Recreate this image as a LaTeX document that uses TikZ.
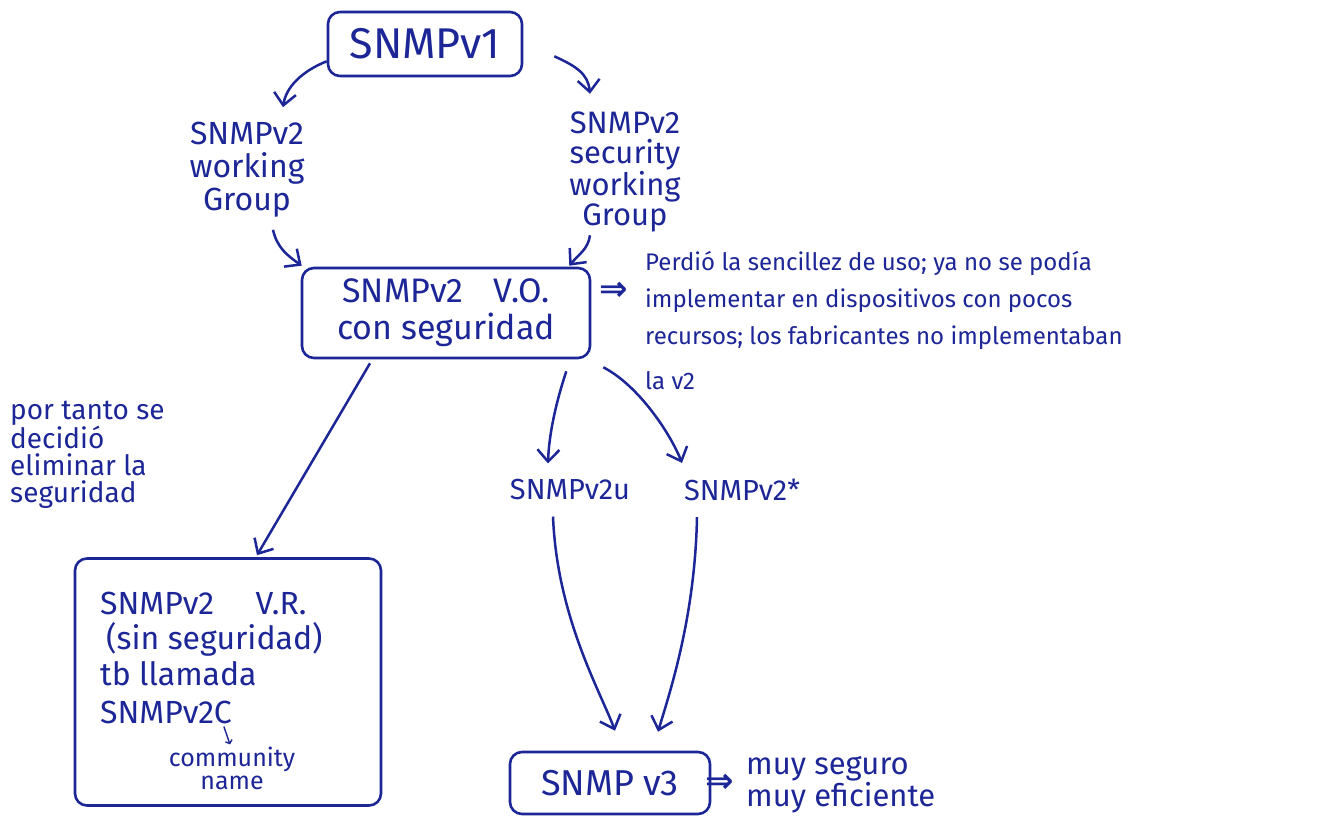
\documentclass[tikz,border=0pt]{standalone}
\usepackage{fontspec}
\setmainfont{Fira Sans}
\newfontfamily\symfont{DejaVu Sans}
\usetikzlibrary{arrows.meta}
\definecolor{ink}{RGB}{28,38,150}
\begin{document}
\begin{tikzpicture}[x=1pt,y=-1pt,
  box/.style={draw=ink, line width=2.6pt, rounded corners=12pt, inner sep=0pt, text=ink, align=center},
  lbl/.style={text=ink, inner sep=0pt},
  arr/.style={draw=ink, line width=2.5pt, -{Straight Barb[length=12pt,width=22pt,line width=2.5pt]}},
  small/.style={draw=ink, line width=1.4pt, -{Straight Barb[length=3pt,width=7pt,line width=1.4pt]}},
  impl/.style={text=ink, inner sep=0pt, font=\symfont\bfseries\fontsize{34}{34}\selectfont},
]
\useasboundingbox[fill=white] (0,0) rectangle (1339,816);

% nodes
\node[box, minimum width=194pt, minimum height=64pt, font=\fontsize{43}{44}\selectfont] (v1) at (425,44) {SNMPv1};
\node[lbl, align=center, font=\fontsize{32}{33}\selectfont] (wg) at (247,170) {SNMPv2\\working\\Group};
\node[lbl, align=center, font=\fontsize{31}{30}\selectfont] (swg) at (625,172) {SNMPv2\\security\\working\\Group};
\node[box, minimum width=288pt, minimum height=90pt, font=\fontsize{34}{37}\selectfont] (vo) at (446,313) {SNMPv2\hspace{0.9em}V.O.\\con seguridad};
\node[impl] (imp1) at (614,291) {⇒};
\node[lbl, align=left, anchor=north west, font=\fontsize{24}{37}\selectfont] (note) at (645,251)
  {Perdió la sencillez de uso; ya no se podía\\implementar en dispositivos con pocos\\recursos; los fabricantes no implementaban\\[8pt]la v2};
\node[lbl, align=left, anchor=north west, font=\fontsize{28}{27}\selectfont] (elim) at (10,401)
  {por tanto se\\decidió\\eliminar la\\seguridad};
\node[box, minimum width=306pt, minimum height=247pt] (vr) at (228,682) {};
\node[lbl, anchor=west, font=\fontsize{32}{32}\selectfont] (vr1) at (100,603) {SNMPv2\hspace{1.3em}V.R.};
\node[lbl, anchor=west, font=\fontsize{32}{32}\selectfont] (vr2) at (106,639) {(sin seguridad)};
\node[lbl, anchor=west, font=\fontsize{32}{32}\selectfont] (vr3) at (100,674) {tb llamada};
\node[lbl, anchor=west, font=\fontsize{32}{32}\selectfont] (vr4) at (100,712) {SNMPv2C};
\node[lbl, align=center, font=\fontsize{25}{23}\selectfont] (cn) at (232,768) {community\\name};
\node[lbl, font=\fontsize{29}{29}\selectfont] (v2u) at (570,490) {SNMPv2u};
\node[lbl, font=\fontsize{29}{29}\selectfont] (v2s) at (742,490) {SNMPv2*};
\node[box, minimum width=200pt, minimum height=62pt, font=\fontsize{36}{36}\selectfont] (v3) at (610,783) {SNMP v3};
\node[impl] (imp2) at (720,783) {⇒};
\node[lbl, align=left, anchor=west, font=\fontsize{31}{26}\selectfont] (good) at (746,785) {muy seguro\\muy eficiente};

% connectors
\draw[arr] ([yshift=16pt]v1.south west) .. controls +(-25,10) and +(3,-20) .. ([xshift=36pt,yshift=15pt]wg.north);
\draw[arr] ([xshift=31pt,yshift=21pt]v1.south east) .. controls +(22,10) and +(-2,-20) .. ([xshift=-35pt,yshift=18pt]swg.north);
\draw[arr] ([xshift=26pt,yshift=-12pt]wg.south) .. controls +(4,18) and +(-14,-10) .. ([xshift=1pt,yshift=1pt]vo.north west);
\draw[arr] ([xshift=-35pt,yshift=-3pt]swg.south) .. controls +(-2,14) and +(10,-12) .. ([xshift=-22pt,yshift=1pt]vo.north east);
\draw[arr] ([xshift=-76pt,yshift=-4pt]vo.south) -- ([xshift=29pt,yshift=2pt]vr.north);
\draw[arr] ([xshift=-25pt,yshift=-12pt]vo.south east) .. controls +(-10,30) and +(1,-30) .. ([xshift=-22pt,yshift=16pt]v2u.north);
\draw[arr] ([xshift=12pt,yshift=-8pt]vo.south east) .. controls +(35,18) and +(-12,-30) .. ([xshift=-60pt,yshift=16pt]v2s.north);
\draw[arr] ([xshift=-17pt,yshift=-16pt]v2u.south) .. controls +(4,100) and +(-15,-40) .. ([xshift=5pt,yshift=20pt]v3.north);
\draw[arr] ([xshift=-45pt,yshift=-16pt]v2s.south) .. controls +(-2,100) and +(12,-40) .. ([xshift=48pt,yshift=19pt]v3.north);
\draw[small] ([xshift=-8pt,yshift=-3pt]vr4.south east) -- ([xshift=-2pt,yshift=2pt]cn.north);
\end{tikzpicture}
\end{document}
